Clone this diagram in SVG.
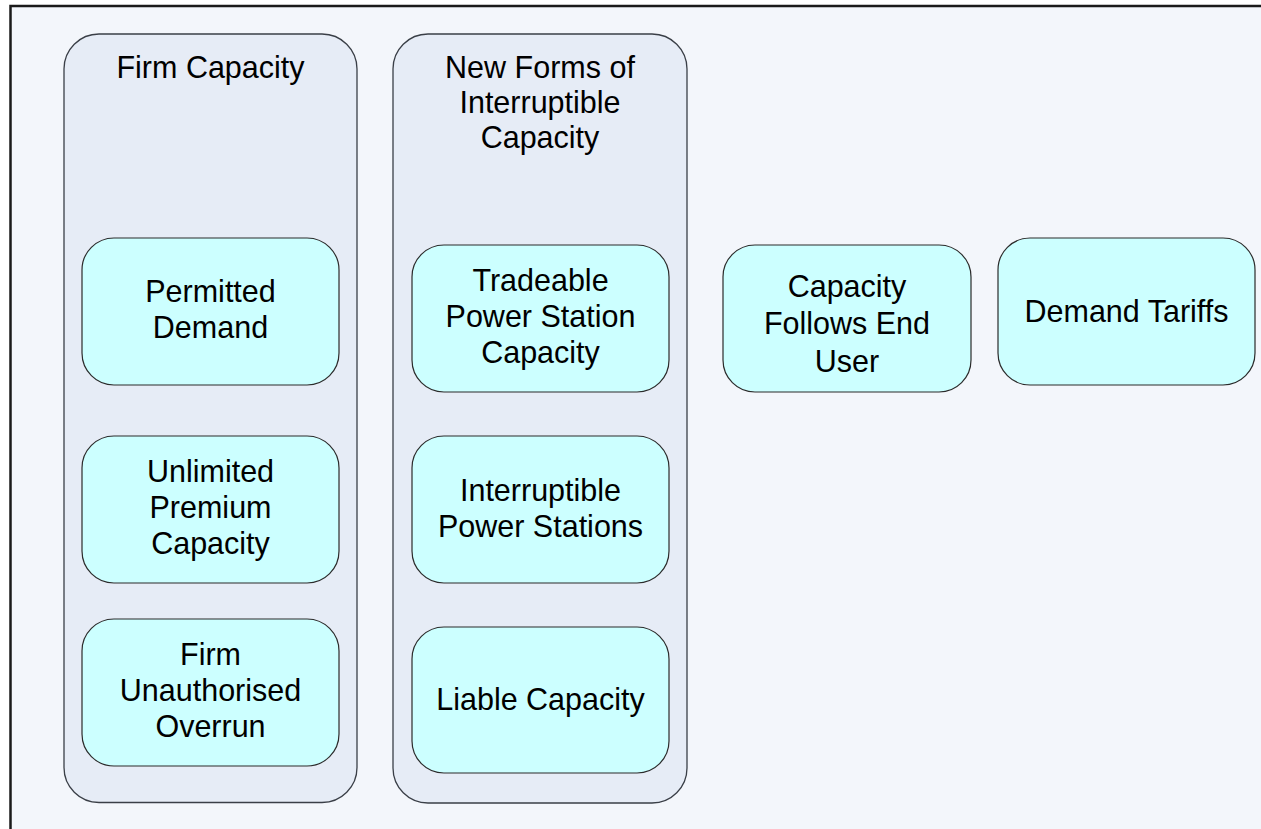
<svg xmlns="http://www.w3.org/2000/svg" width="1261" height="829" viewBox="0 0 1261 829">
  <style>
    .frame { fill: #F3F6FB; stroke: #1a1a1a; stroke-width: 2.5; }
    .group { fill: #E6ECF6; stroke: #3a3f47; stroke-width: 1.3; }
    .node { fill: #CCFFFF; stroke: #2b2b2b; stroke-width: 1.2; }
    .label { font-family: "Liberation Sans", Arial, sans-serif; font-size: 30.5px; fill: #000; text-anchor: middle; }
  </style>

  <rect width="1261" height="829" fill="#ffffff"/>
  <!-- drawing frame, right and bottom edges run past the canvas -->
  <rect class="frame" x="10.5" y="6" width="1300" height="900"/>

  <g id="firm-capacity">
    <rect class="group" x="64" y="34" width="293" height="768.5" rx="35" ry="35"/>
    <text class="label" x="210.5" y="77.5">Firm Capacity</text>
  </g>

  <g id="new-forms">
    <rect class="group" x="393" y="34" width="294" height="769" rx="35" ry="35"/>
    <text class="label"><tspan x="540" y="77.5">New Forms of</tspan><tspan x="540" y="112.5">Interruptible</tspan><tspan x="540" y="147.5">Capacity</tspan></text>
  </g>

  <g id="permitted-demand">
    <rect class="node" x="82" y="238" width="257" height="147" rx="32" ry="32"/>
    <text class="label"><tspan x="210.5" y="302">Permitted</tspan><tspan x="210.5" y="337.5">Demand</tspan></text>
  </g>

  <g id="unlimited-premium">
    <rect class="node" x="82" y="436" width="257" height="147" rx="32" ry="32"/>
    <text class="label"><tspan x="210.5" y="482">Unlimited</tspan><tspan x="210.5" y="518">Premium</tspan><tspan x="210.5" y="554">Capacity</tspan></text>
  </g>

  <g id="firm-unauthorised">
    <rect class="node" x="82" y="619" width="257" height="147" rx="32" ry="32"/>
    <text class="label"><tspan x="210.5" y="665">Firm</tspan><tspan x="210.5" y="701">Unauthorised</tspan><tspan x="210.5" y="737">Overrun</tspan></text>
  </g>

  <g id="tradeable-power">
    <rect class="node" x="412" y="245" width="257" height="147" rx="32" ry="32"/>
    <text class="label"><tspan x="540.5" y="291">Tradeable</tspan><tspan x="540.5" y="327">Power Station</tspan><tspan x="540.5" y="362.5">Capacity</tspan></text>
  </g>

  <g id="interruptible-power">
    <rect class="node" x="412" y="436" width="257" height="147" rx="32" ry="32"/>
    <text class="label"><tspan x="540.5" y="501">Interruptible</tspan><tspan x="540.5" y="536.5">Power Stations</tspan></text>
  </g>

  <g id="liable-capacity">
    <rect class="node" x="412" y="627" width="257" height="146" rx="32" ry="32"/>
    <text class="label" x="540.5" y="710">Liable Capacity</text>
  </g>

  <g id="capacity-follows">
    <rect class="node" x="723" y="245" width="248" height="147" rx="32" ry="32"/>
    <text class="label"><tspan x="847" y="297">Capacity</tspan><tspan x="847" y="334">Follows End</tspan><tspan x="847" y="372">User</tspan></text>
  </g>

  <g id="demand-tariffs">
    <rect class="node" x="998" y="238" width="257" height="147" rx="32" ry="32"/>
    <text class="label" x="1126.5" y="322">Demand Tariffs</text>
  </g>

  <g id="connectors"/>
</svg>
